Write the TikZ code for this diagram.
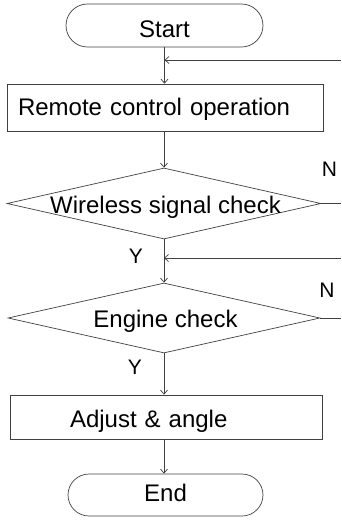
\documentclass[tikz,border=0pt]{standalone}
\usepackage{fontspec}
\setmainfont{Liberation Sans}
\usetikzlibrary{shapes.geometric,shapes.misc,arrows.meta}
\begin{document}
\begin{tikzpicture}[x=1pt,y=-1pt,
  line/.style={draw=black!75,line width=0.7pt},
  arr/.style={line,-{Straight Barb[length=4pt,width=7pt]}},
  term/.style={rounded rectangle,line,inner sep=0pt,font=\fontsize{24}{28}\selectfont,text depth=0pt},
  proc/.style={rectangle,line,inner ysep=0pt,font=\fontsize{24}{28}\selectfont},
  dec/.style={diamond,line,inner sep=0pt,font=\fontsize{24}{28}\selectfont},
  yn/.style={font=\fontsize{21}{24}\selectfont,inner sep=0pt}]
\useasboundingbox (0,0) rectangle (341,520);
\node[term,minimum width=197pt,minimum height=43pt,text height=23pt] (start) at (164.5,25.5) {Start};
\node[proc,minimum width=316pt,minimum height=47pt,text width=294pt,inner xsep=11pt,align=left,text height=17pt,text depth=2pt] (remote) at (165,107.5) {Remote control operation};
\node[dec,minimum width=314pt,minimum height=71pt] (d1) at (164,203.5) {\makebox[0pt]{\hspace*{3pt}\smash{\raisebox{-9.5pt}{Wireless signal check}}}};
\node[dec,minimum width=312pt,minimum height=70pt] (d2) at (164,318) {\makebox[0pt]{\hspace*{3pt}\smash{\raisebox{-9pt}{Engine check}}}};
\node[proc,minimum width=312pt,minimum height=44pt,text width=192pt,inner xsep=60pt,align=left,text height=20pt,text depth=0pt] (adjust) at (166,417) {Adjust \& angle};
\node[term,minimum width=195pt,minimum height=42pt,text height=12pt] (end) at (165.5,495) {End};
\coordinate (fb1) at (341,60);
\coordinate (n1) at (341,203.5);
\coordinate (fb2) at (341,258);
\coordinate (n2) at (341,318);
\node[yn] (N1) at (329.5,169.5) {N};
\node[yn] (N2) at (327,290.5) {N};
\node[yn] (Y1) at (136,256.5) {Y};
\node[yn] (Y2) at (135,367.5) {Y};
\draw[arr] (start.south) -- (start.south |- remote.north);
\draw[arr] (fb1) -- (fb1 -| start.south);
\draw[arr] (d1.north |- remote.south) -- (d1.north);
\draw[line] (d1.east) -- (n1);
\draw[arr] (d1.south) -- (d2.north);
\draw[arr] (fb2) -- (fb2 -| d1.south);
\draw[line] (d2.east) -- (n2);
\draw[arr] (d2.south) -- (d2.south |- adjust.north);
\draw[arr] (d2.south |- adjust.south) -- (d2.south |- end.north);
\end{tikzpicture}
\end{document}
